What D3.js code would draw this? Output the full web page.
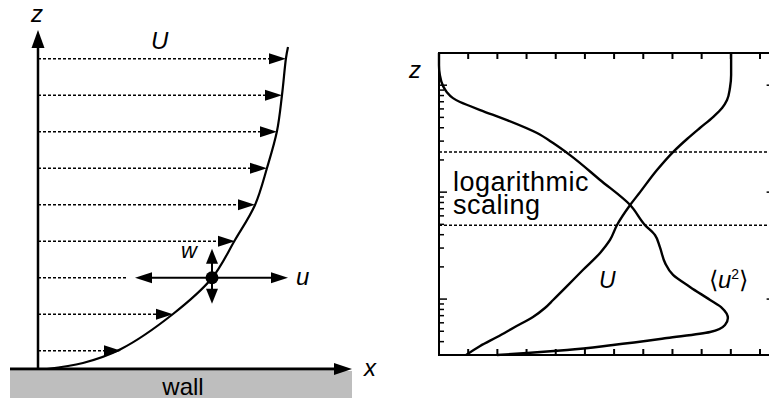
<!DOCTYPE html>
<html><head><meta charset="utf-8">
<script src="https://cdn.jsdelivr.net/npm/d3@7"></script>
<style>
body{margin:0;background:#fff}
svg{display:block}
text{font-family:"Liberation Sans",Arial,Helvetica,sans-serif;fill:#000}
</style>
</head><body>
<script>
// ---------- Left panel: mean velocity profile above a wall ----------
// normalized height z (row units) and normalized velocity U(z)
const profileZ = [0, 0.164, 0.548, 1.507, 2.493, 3.534, 4.493, 5.507, 6.52, 7.507, 8.52, 8.82];
const profileU = [0.036, 0.18, 0.332, 0.54, 0.696, 0.788, 0.868, 0.916, 0.956, 0.976, 0.992, 1.0];
// sample heights where velocity arrows are drawn, and the arrow lengths
const rowZ = [0.5, 1.5, 2.5, 3.5, 4.5, 5.5, 6.5, 7.5, 8.5];
const rowU = [0.332, 0.54, 0.696, 0.788, 0.868, 0.916, 0.956, 0.976, 0.992];
const probeRow = 2; // row carrying the fluctuation probe (u, w)
const leftLabels = {z: "z", x: "x", U: "U", u: "u", w: "w", wall: "wall"};

// ---------- Right panel: log-scaled profiles ----------
// mean velocity U (x units) against height z (log), top to bottom
const meanUX = [10.01, 10.01, 9.97, 9.87, 9.70, 9.39, 8.94, 8.50, 8.02, 7.47, 6.89, 6.55, 6.10, 5.86, 5.52, 4.93, 4.42, 3.91, 3.63, 3.22, 2.60, 1.99, 1.41, 0.93];
const meanUZ = [2000, 1245, 941, 727, 612, 504, 398, 314, 237, 161, 100, 75.8, 49.3, 35.7, 27.0, 18.7, 13.5, 9.8, 8.25, 6.8, 5.48, 4.42, 3.64, 3.0];
// velocity variance <u^2> against height z, top to bottom
const varUX = [0, 0, 0.03, 0.14, 0.27, 0.48, 0.72, 1.06, 1.41, 2.33, 3.36, 3.91, 4.49, 5.52, 6.55, 7.06, 7.4, 7.57, 7.75, 8.02, 8.6, 9.29, 9.7, 9.9, 9.8, 9.29, 7.81, 5.96, 4.39, 3.02, 1.99];
const varUZ = [2000, 1540, 1241, 980, 861, 757, 696, 639, 586, 472, 357, 288, 222, 130, 75.8, 49.2, 39.7, 30.6, 21.7, 16.8, 13.0, 9.8, 8.25, 6.65, 5.72, 4.92, 4.32, 3.72, 3.34, 3.13, 3.0];
const xTicks = [1, 2, 3, 4, 5, 6, 7, 8, 9, 10, 11];
const zDomain = [3, 2000];
const xDomain = [0, 11.5];
const regionBounds = [237, 49]; // dashed limits of the logarithmic region
const rightLabels = {z: "z", region: ["logarithmic", "scaling"], U: "U"};

const W = 769, H = 399;
const svg = d3.select("body").append("svg").attr("width", W).attr("height", H);

// ===== LEFT =====
const xL = d3.scaleLinear().domain([0, 1]).range([38, 288]);
const zL = d3.scaleLinear().domain([0, 9]).range([369, 40.5]);
const gL = svg.append("g");

// wall
gL.append("rect").attr("x", 10).attr("y", 371).attr("width", 342).attr("height", 27).attr("fill", "#bebebe");
gL.append("text").attr("x", 183).attr("y", 395).attr("text-anchor", "middle").attr("font-size", 24).text(leftLabels.wall);

// x axis
gL.append("line").attr("x1", 10).attr("x2", 336).attr("y1", zL(0)).attr("y2", zL(0)).attr("stroke", "#000").attr("stroke-width", 3);
gL.append("path").attr("d", `M352,${zL(0)} L334,${zL(0) - 6} L334,${zL(0) + 6} Z`).attr("fill", "#000");
gL.append("text").attr("x", 364).attr("y", 376).attr("font-size", 24).attr("font-style", "italic").text(leftLabels.x);

// z axis
gL.append("line").attr("x1", xL(0)).attr("x2", xL(0)).attr("y1", zL(0) + 1).attr("y2", 46).attr("stroke", "#000").attr("stroke-width", 2.5);
gL.append("path").attr("d", `M${xL(0)},30 L${xL(0) - 6.5},48 L${xL(0) + 6.5},48 Z`).attr("fill", "#000");
gL.append("text").attr("x", 31).attr("y", 22).attr("font-size", 24).attr("font-style", "italic").text(leftLabels.z);
gL.append("text").attr("x", 151).attr("y", 49).attr("font-size", 24).attr("font-style", "italic").text(leftLabels.U);

// profile curve
const profile = profileZ.map((z, i) => [profileU[i], z]);
gL.append("path").datum(profile)
  .attr("d", d3.line().x(d => xL(d[0])).y(d => zL(d[1])).curve(d3.curveCatmullRom.alpha(0.5)))
  .attr("fill", "none").attr("stroke", "#000").attr("stroke-width", 2.2);

// velocity arrows
const AH = 17, AW = 5.5;
rowZ.forEach((z, i) => {
  const tx = xL(rowU[i]), ty = zL(z);
  if (i === probeRow) {
    gL.append("line").attr("x1", xL(0)).attr("x2", tx - 85).attr("y1", ty).attr("y2", ty)
      .attr("stroke", "#000").attr("stroke-width", 1.4).attr("stroke-dasharray", "3,2");
    // horizontal fluctuation arrow
    const lx = tx - 77, rx = tx + 76;
    gL.append("line").attr("x1", lx + 10).attr("x2", rx - 10).attr("y1", ty).attr("y2", ty).attr("stroke", "#000").attr("stroke-width", 2);
    gL.append("path").attr("d", `M${lx},${ty} L${lx + 17},${ty - 5.5} L${lx + 17},${ty + 5.5} Z`).attr("fill", "#000");
    gL.append("path").attr("d", `M${rx},${ty} L${rx - 17},${ty - 5.5} L${rx - 17},${ty + 5.5} Z`).attr("fill", "#000");
    // vertical fluctuation arrow
    const ty1 = ty - 29, ty2 = ty + 26;
    gL.append("line").attr("x1", tx).attr("x2", tx).attr("y1", ty1 + 8).attr("y2", ty2 - 8).attr("stroke", "#000").attr("stroke-width", 2);
    gL.append("path").attr("d", `M${tx},${ty1} L${tx - 6},${ty1 + 15} L${tx + 6},${ty1 + 15} Z`).attr("fill", "#000");
    gL.append("path").attr("d", `M${tx},${ty2} L${tx - 6},${ty2 - 15} L${tx + 6},${ty2 - 15} Z`).attr("fill", "#000");
    gL.append("circle").attr("cx", tx).attr("cy", ty).attr("r", 6.5).attr("fill", "#000");
    gL.append("text").attr("x", 181).attr("y", 258).attr("font-size", 22).attr("font-style", "italic").text(leftLabels.w);
    gL.append("text").attr("x", 296).attr("y", 285).attr("font-size", 24).attr("font-style", "italic").text(leftLabels.u);
  } else {
    gL.append("line").attr("x1", xL(0)).attr("x2", tx - AH).attr("y1", ty).attr("y2", ty)
      .attr("stroke", "#000").attr("stroke-width", 1.4).attr("stroke-dasharray", "3,2");
    gL.append("path").attr("d", `M${tx},${ty} L${tx - AH},${ty - AW} L${tx - AH},${ty + AW} Z`).attr("fill", "#000");
  }
});

// ===== RIGHT =====
const xR = d3.scaleLinear().domain(xDomain).range([439, 774.6]);
const zR = d3.scaleLog().domain(zDomain).range([355, 53]);
const gR = svg.append("g");

// dashed region bounds
regionBounds.forEach(z => {
  gR.append("line").attr("x1", xR(0)).attr("x2", W).attr("y1", zR(z)).attr("y2", zR(z))
    .attr("stroke", "#000").attr("stroke-width", 1.4).attr("stroke-dasharray", "3,2");
});

// frame
gR.append("rect").attr("x", xR(0)).attr("y", zR(zDomain[1])).attr("width", xR(xDomain[1]) - xR(0))
  .attr("height", zR(zDomain[0]) - zR(zDomain[1])).attr("fill", "none").attr("stroke", "#000").attr("stroke-width", 2);

// x ticks top and bottom (inward)
xTicks.forEach(t => {
  gR.append("line").attr("x1", xR(t)).attr("x2", xR(t)).attr("y1", zR(zDomain[1])).attr("y2", zR(zDomain[1]) + 6).attr("stroke", "#000").attr("stroke-width", 2);
  gR.append("line").attr("x1", xR(t)).attr("x2", xR(t)).attr("y1", zR(zDomain[0])).attr("y2", zR(zDomain[0]) - 6).attr("stroke", "#000").attr("stroke-width", 2);
});
// log z ticks left and right (inward)
zR.ticks().forEach(t => {
  const major = Math.abs(Math.log10(t) - Math.round(Math.log10(t))) < 1e-9;
  const len = major ? 8 : 5;
  gR.append("line").attr("x1", xR(0)).attr("x2", xR(0) + len).attr("y1", zR(t)).attr("y2", zR(t)).attr("stroke", "#000").attr("stroke-width", 1.5);
  gR.append("line").attr("x1", xR(xDomain[1])).attr("x2", xR(xDomain[1]) - len).attr("y1", zR(t)).attr("y2", zR(t)).attr("stroke", "#000").attr("stroke-width", 1.5);
});

// region label
const reg = gR.append("text").attr("font-size", 27).attr("letter-spacing", 0.5);
reg.append("tspan").attr("x", 453).attr("y", 191).text(rightLabels.region[0]);
reg.append("tspan").attr("x", 453).attr("y", 214).text(rightLabels.region[1]);

const lineR = d3.line().x(d => xR(d[0])).y(d => zR(d[1])).curve(d3.curveMonotoneY);
gR.append("path").datum(meanUX.map((x, i) => [x, meanUZ[i]])).attr("d", lineR)
  .attr("fill", "none").attr("stroke", "#000").attr("stroke-width", 2.4);
gR.append("path").datum(varUX.map((x, i) => [x, varUZ[i]])).attr("d", lineR)
  .attr("fill", "none").attr("stroke", "#000").attr("stroke-width", 2.4);

gR.append("text").attr("x", 409).attr("y", 78).attr("font-size", 24).attr("font-style", "italic").text(rightLabels.z);
gR.append("text").attr("x", 599).attr("y", 288).attr("font-size", 23).attr("font-style", "italic").text(rightLabels.U);
const u2 = gR.append("text").attr("x", 709).attr("y", 288).attr("font-size", 24);
u2.append("tspan").text("\u27E8");
u2.append("tspan").attr("font-style", "italic").text("u");
u2.append("tspan").attr("font-size", 14).attr("dy", -9).text("2");
u2.append("tspan").attr("dy", 9).text("\u27E9");
</script>
</body></html>
